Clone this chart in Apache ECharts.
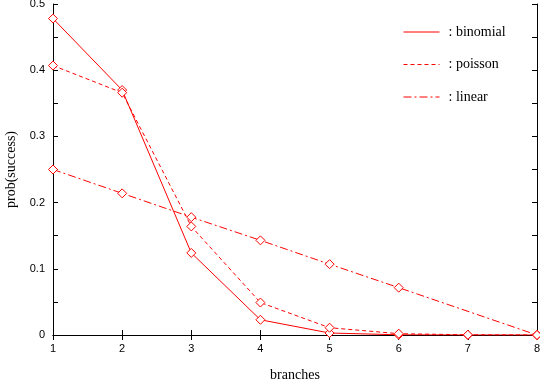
<!DOCTYPE html>
<html>
<head>
<meta charset="utf-8">
<script src="https://cdn.jsdelivr.net/npm/echarts@6/dist/echarts.min.js"></script>
<style>html,body{margin:0;padding:0;background:#fff}#c{width:540px;height:381px}</style>
</head>
<body>
<div id="c"></div>
<script>
const branches = [1, 2, 3, 4, 5, 6, 7, 8];
const binomial = [0.478, 0.370, 0.124, 0.023, 0.003, 0.0003, 0.0, 0.0];
const poisson  = [0.407, 0.366, 0.164, 0.049, 0.011, 0.002, 0.0003, 0.0];
const linearX  = [1, 2, 3, 4, 5, 6, 8];
const linear   = [0.250, 0.214, 0.178, 0.143, 0.107, 0.0715, 0.0];
const seriesNames = [': binomial', ': poisson', ': linear'];
const xTicks = [1, 8, 1];
const yTicks = [0, 0.5, 0.1];

const red = '#ff0000';
const chart = echarts.init(document.getElementById('c'));
function pairs(xs, ys){ return xs.map((x,i)=>[x, ys[i]]); }
const axisLine = {show:true, lineStyle:{color:'#000', width:1}};
const sym = {symbol:'diamond', symbolSize:9, itemStyle:{color:'#fff', borderColor:red, borderWidth:1}};
chart.setOption({
  animation:false,
  grid:{left:53, right:3, top:4, bottom:46, containLabel:false, outerBoundsMode:'none'},
  legend:{
    orient:'vertical', left:403, top:25, padding:0, itemWidth:36, itemHeight:14, itemGap:18.5,
    itemStyle:{opacity:0}, lineStyle:{width:1},
    textStyle:{fontFamily:'Liberation Serif', fontSize:14, color:'#000', padding:[0,0,0,4]},
    data:seriesNames
  },
  xAxis:[{
    type:'value', min:xTicks[0], max:xTicks[1], interval:xTicks[2],
    name:'branches', nameLocation:'middle', nameGap:33,
    nameTextStyle:{fontFamily:'Liberation Serif', fontSize:14, color:'#000'},
    axisLine:axisLine, axisTick:{show:true, inside:true, length:5, lineStyle:{color:'#000'}},
    axisLabel:{fontFamily:'Liberation Sans', fontSize:11, color:'#000', margin:8},
    splitLine:{show:false}
  },{
    type:'value', position:'top', min:xTicks[0], max:xTicks[1], interval:xTicks[2],
    axisLine:axisLine, axisTick:{show:true, inside:true, length:5, lineStyle:{color:'#000'}},
    axisLabel:{show:false}, splitLine:{show:false}
  }],
  yAxis:[{
    type:'value', min:yTicks[0], max:yTicks[1], interval:yTicks[2],
    name:'prob(success)', nameLocation:'middle', nameGap:34,
    nameTextStyle:{fontFamily:'Liberation Serif', fontSize:14, color:'#000'},
    axisLine:axisLine, axisTick:{show:true, inside:true, length:5, lineStyle:{color:'#000'}},
    minorTick:{show:true, splitNumber:2, length:5, lineStyle:{color:'#000'}},
    axisLabel:{fontFamily:'Liberation Sans', fontSize:11, color:'#000', margin:8},
    splitLine:{show:false}
  },{
    type:'value', position:'right', min:yTicks[0], max:yTicks[1], interval:yTicks[2],
    axisLine:axisLine, axisTick:{show:true, inside:true, length:5, lineStyle:{color:'#000'}},
    minorTick:{show:true, splitNumber:2, length:5, lineStyle:{color:'#000'}},
    axisLabel:{show:false}, splitLine:{show:false}
  }],
  series:[
    Object.assign({name:seriesNames[0], type:'line', data:pairs(branches, binomial),
      lineStyle:{color:red, width:1, type:'solid'}, color:red}, sym),
    Object.assign({name:seriesNames[1], type:'line', data:pairs(branches, poisson),
      lineStyle:{color:red, width:1, type:[4,3]}, color:red}, sym),
    Object.assign({name:seriesNames[2], type:'line', data:pairs(linearX, linear),
      lineStyle:{color:red, width:1, type:[8,3,2,3]}, color:red}, sym)
  ]
});
</script>
</body>
</html>
